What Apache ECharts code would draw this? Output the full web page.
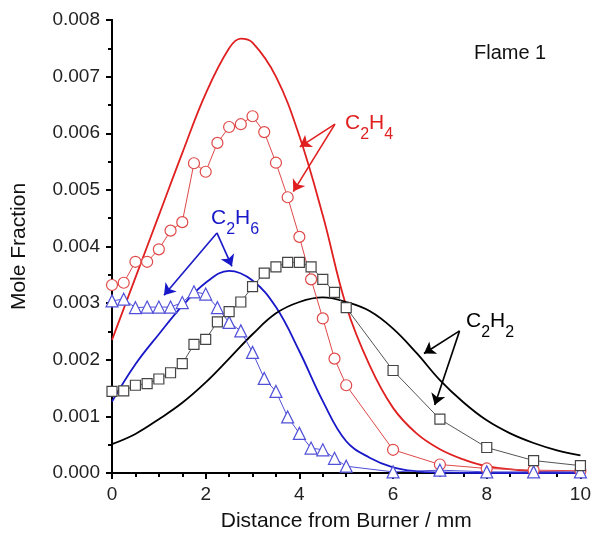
<!DOCTYPE html>
<html>
<head>
<meta charset="utf-8">
<script src="https://cdn.jsdelivr.net/npm/echarts@6/dist/echarts.min.js"></script>
<style>html,body{margin:0;padding:0;background:#fff;}#c{width:594px;height:537px;}</style>
</head>
<body>
<div id="c"></div>
<script>
// ---- data ----
const xTicks = [0, 2, 4, 6, 8, 10];
const yTicks = [0, 0.001, 0.002, 0.003, 0.004, 0.005, 0.006, 0.007, 0.008];

// C2H4 model (red line)
const c2h4ModelX = [0, 0.5, 1.0, 1.5, 2.0, 2.5, 2.75, 3.0, 3.5, 4.0, 4.5, 5.0, 5.5, 6.0, 6.5, 7.0, 7.5, 8.0, 9.0, 10];
const c2h4ModelY = [0.00235, 0.00345, 0.00455, 0.00565, 0.0067, 0.0075, 0.00767, 0.0076, 0.0070, 0.00595, 0.00455, 0.00295, 0.0019, 0.00115, 0.0007, 0.00042, 0.00024, 0.00012, 0.00003, 0.00001];
// C2H4 measured (red circles)
const c2h4DataX = [0, 0.25, 0.5, 0.75, 1.0, 1.25, 1.5, 1.75, 2.0, 2.25, 2.5, 2.75, 3.0, 3.25, 3.5, 3.75, 4.0, 4.25, 4.5, 4.75, 5.0, 6, 7, 8, 9, 10];
const c2h4DataY = [0.00332, 0.00336, 0.00373, 0.00373, 0.00395, 0.00428, 0.00443, 0.00547, 0.00532, 0.00583, 0.00611, 0.00616, 0.0063, 0.00602, 0.00548, 0.00487, 0.00417, 0.00342, 0.00273, 0.00202, 0.00155, 0.00041, 0.00015, 0.00008, 0.00005, 0.00004];

// C2H6 model (blue line)
const c2h6ModelX = [0, 0.5, 1.0, 1.5, 2.0, 2.5, 3.0, 3.5, 4.0, 4.5, 5.0, 5.5, 6.0, 6.5, 7.0, 8.0, 10];
const c2h6ModelY = [0.00126, 0.00192, 0.00245, 0.00295, 0.00336, 0.00357, 0.0034, 0.00293, 0.00215, 0.00127, 0.00056, 0.00027, 0.0001, 0.00003, 0.00001, 0, 0];
// C2H6 measured (blue triangles)
const c2h6DataX = [0, 0.25, 0.5, 0.75, 1.0, 1.25, 1.5, 1.75, 2.0, 2.25, 2.5, 2.75, 3.0, 3.25, 3.5, 3.75, 4.0, 4.25, 4.5, 4.75, 5.0, 6, 7, 8, 9, 10];
const c2h6DataY = [0.00304, 0.00307, 0.00292, 0.00293, 0.00293, 0.00293, 0.00301, 0.0032, 0.00316, 0.00292, 0.00266, 0.00251, 0.00213, 0.00167, 0.00144, 0.00099, 0.0007, 0.00044, 0.00041, 0.00026, 0.00012, 0.00002, 0.00005, 0.00002, 0.00002, 0.00002];

// C2H2 model (black line)
const c2h2ModelX = [0, 0.5, 1.0, 1.5, 2.0, 2.5, 3.0, 3.5, 4.0, 4.5, 5.0, 5.5, 6.0, 6.5, 7.0, 7.5, 8.0, 8.5, 9.0, 9.5, 10];
const c2h2ModelY = [0.00051, 0.00069, 0.00095, 0.00124, 0.0016, 0.00202, 0.00245, 0.00282, 0.00302, 0.0031, 0.00302, 0.00286, 0.00255, 0.00212, 0.00164, 0.00125, 0.00093, 0.0007, 0.00053, 0.0004, 0.00031];
// C2H2 measured (black squares)
const c2h2DataX = [0, 0.25, 0.5, 0.75, 1.0, 1.25, 1.5, 1.75, 2.0, 2.25, 2.5, 2.75, 3.0, 3.25, 3.5, 3.75, 4.0, 4.25, 4.5, 4.75, 5.0, 6, 7, 8, 9, 10];
const c2h2DataY = [0.00144, 0.00145, 0.00155, 0.00158, 0.00166, 0.00177, 0.00193, 0.00227, 0.00236, 0.00267, 0.00285, 0.00302, 0.00329, 0.00353, 0.00364, 0.00372, 0.00372, 0.00364, 0.00342, 0.00319, 0.00292, 0.00181, 0.00095, 0.00045, 0.00022, 0.00013];

const pair = (xs, ys) => xs.map((x, i) => [x, ys[i]]);

const RED = '#e02020', RED2 = '#e04848', BLUE = '#1818c8', BLUE2 = '#5050d8', BLACK = '#000';
const FONT = 'Liberation Sans, Arial, sans-serif';

function arrows(color, o, heads) {
  return {
    silent: true, animation: false, symbol: ['none', 'arrow'], symbolSize: 11,
    label: { show: false },
    lineStyle: { color: color, width: 1.6, type: 'solid' },
    itemStyle: { color: color },
    emphasis: { disabled: true },
    data: heads.map(h => [{ coord: o, symbol: 'none' }, { coord: h, symbol: 'arrow', symbolSize: 11 }])
  };
}

function chem(main, sub1, sub2, color) {
  return {
    text: '{n|C}{s|' + sub1 + '}{n|H}{s|' + sub2 + '}', fill: color,
    rich: { n: { fontSize: 21, fontFamily: FONT, fill: color, verticalAlign: 'top', lineHeight: 24 },
            s: { fontSize: 16, fontFamily: FONT, fill: color, verticalAlign: 'bottom', lineHeight: 30 } }
  };
}

const chart = echarts.init(document.getElementById('c'), null, { renderer: 'canvas' });
const axisCommon = {
  type: 'value', min: 0,
  axisLine: { show: true, lineStyle: { color: '#000', width: 2 } },
  splitLine: { show: false },
};
const option = {
  animation: false,
  backgroundColor: '#fff',
  grid: { left: 112, right: 11, top: 20, bottom: 63, containLabel: false },
  xAxis: [
    Object.assign({}, axisCommon, {
      position: 'bottom', max: 10, interval: 2,
      axisTick: { show: true, inside: false, length: 6, lineStyle: { color: '#000', width: 2 } },
      minorTick: { show: true, splitNumber: 4, length: 4, lineStyle: { color: '#000', width: 2 } },
      axisLabel: { margin: 12, fontSize: 19, color: '#222', fontFamily: FONT,
        formatter: v => xTicks.includes(v) ? String(v) : '' },
      name: 'Distance from Burner / mm', nameLocation: 'middle', nameGap: 38,
      nameTextStyle: { fontSize: 21, color: '#111', fontFamily: FONT }
    }),
    Object.assign({}, axisCommon, {
      position: 'top', max: 10, interval: 2,
      axisTick: { show: true, inside: true, length: 6, lineStyle: { color: '#000', width: 2 } },
      minorTick: { show: true, splitNumber: 4, length: 4, lineStyle: { color: '#000', width: 2 } },
      axisLabel: { show: false }
    })
  ],
  yAxis: [
    Object.assign({}, axisCommon, {
      position: 'left', max: 0.008, interval: 0.001,
      axisTick: { show: true, inside: false, length: 6, lineStyle: { color: '#000', width: 2 } },
      minorTick: { show: true, splitNumber: 2, length: 4, lineStyle: { color: '#000', width: 2 } },
      axisLabel: { margin: 12, fontSize: 19, color: '#222', fontFamily: FONT,
        formatter: v => { const t = yTicks.find(k => Math.abs(k - v) < 1e-9); return t === undefined ? '' : t.toFixed(3); } },
      name: 'Mole Fraction', nameLocation: 'middle', nameGap: 82,
      nameTextStyle: { fontSize: 21, color: '#111', fontFamily: FONT }
    }),
    Object.assign({}, axisCommon, {
      position: 'right', max: 0.008, interval: 0.001,
      axisTick: { show: true, inside: true, length: 6, lineStyle: { color: '#000', width: 2 } },
      minorTick: { show: true, splitNumber: 2, length: 4, lineStyle: { color: '#000', width: 2 } },
      axisLabel: { show: false }
    })
  ],
  series: [
    { name: 'C2H4 model', type: 'line', data: pair(c2h4ModelX, c2h4ModelY), smooth: 0.4, showSymbol: false,
      lineStyle: { color: RED, width: 1.8 }, z: 2,
      markLine: arrows(RED, [4.76, 0.00616], [[4.01, 0.00576], [3.87, 0.00497]]) },
    { name: 'C2H6 model', type: 'line', data: pair(c2h6ModelX, c2h6ModelY), smooth: 0.4, showSymbol: false,
      lineStyle: { color: BLUE, width: 1.8 }, z: 2,
      markLine: arrows(BLUE, [2.24, 0.00424], [[1.11, 0.00314], [2.56, 0.00365]]) },
    { name: 'C2H2 model', type: 'line', data: pair(c2h2ModelX, c2h2ModelY), smooth: 0.4, showSymbol: false,
      lineStyle: { color: BLACK, width: 1.8 }, z: 2,
      markLine: arrows(BLACK, [7.42, 0.00251], [[6.66, 0.00211], [6.89, 0.0012]]) },
    { name: 'C2H4 data', type: 'line', data: pair(c2h4DataX, c2h4DataY), symbol: 'circle', symbolSize: 11,
      lineStyle: { color: RED2, width: 1 }, itemStyle: { color: '#fff', borderColor: RED2, borderWidth: 1.2 }, z: 3 },
    { name: 'C2H6 data', type: 'line', data: pair(c2h6DataX, c2h6DataY), symbol: 'triangle', symbolSize: 12,
      lineStyle: { color: BLUE2, width: 1 }, itemStyle: { color: '#fff', borderColor: BLUE2, borderWidth: 1.2 }, z: 3 },
    { name: 'C2H2 data', type: 'line', data: pair(c2h2DataX, c2h2DataY), symbol: 'rect', symbolSize: 10,
      lineStyle: { color: '#555', width: 1 }, itemStyle: { color: '#fff', borderColor: '#444', borderWidth: 1.2 }, z: 3 }
  ],
  graphic: [
    { type: 'text', left: 474, top: 43, z: 10, style: { text: 'Flame 1', fill: '#111', font: '20px ' + FONT } },
    { type: 'text', left: 345, top: 113, z: 10, style: chem('C', '2', '4', RED) },
    { type: 'text', left: 211, top: 208, z: 10, style: chem('C', '2', '6', BLUE) },
    { type: 'text', left: 466, top: 311, z: 10, style: chem('C', '2', '2', BLACK) }
  ]
};
chart.setOption(option);
</script>
</body>
</html>
